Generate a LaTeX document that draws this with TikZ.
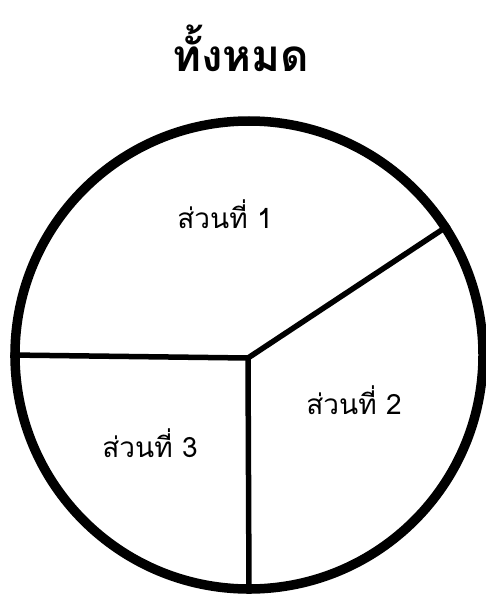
\documentclass[tikz,border=0pt]{standalone}
\usepackage{fontspec}
\newfontfamily\thaifont[Script=Thai]{Loma}
\usetikzlibrary{positioning}

\begin{document}
\begin{tikzpicture}[x=1pt,y=-1pt,
    part/.style={font=\thaifont\fontsize{28}{32}\selectfont},
    divider/.style={line width=5.5pt},
    rim/.style={draw,circle,line width=9.5pt,inner sep=0pt,minimum size=468pt}]
  \useasboundingbox (0,0) rectangle (485,599);
  % title
  \node[font=\thaifont\bfseries\fontsize{44}{50}\selectfont] (title) at (241,48) {ทั้งหมด};
  % the whole circle
  \node[rim] (pie) at (249,355) {};
  \coordinate (hub) at (248,358);
  \draw[divider] (pie.west) -- (hub) -- (pie.33);
  \draw[divider] (hub) -- (pie.south);
  % parts
  \node[part] (p1) at (225,214) {ส่วนที่ 1};
  \node[part] (p2) at (354,400) {ส่วนที่ 2};
  \node[part] (p3) at (150,443) {ส่วนที่ 3};
\end{tikzpicture}
\end{document}
